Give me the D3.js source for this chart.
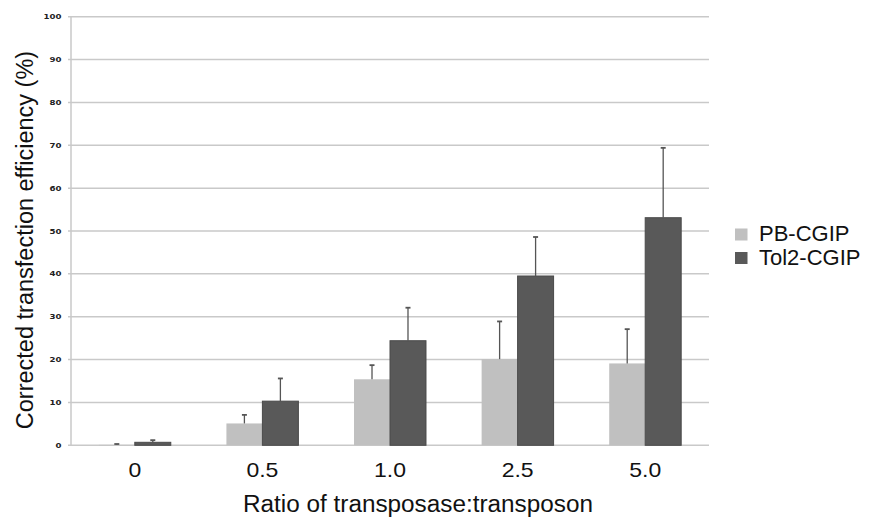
<!DOCTYPE html>
<html><head><meta charset="utf-8">
<script src="https://cdn.jsdelivr.net/npm/d3@7"></script>
<style>body{margin:0;background:#fff;} svg{display:block;}</style>
</head><body>
<svg id="c" width="874" height="519"></svg>
<script>
const categories = ["0", "0.5", "1.0", "2.5", "5.0"];
const seriesNames = ["PB-CGIP", "Tol2-CGIP"];
const pbValues = [0.1, 5.1, 15.4, 20.1, 19.1];
const pbErrTop = [0.3, 7.1, 18.7, 28.9, 27.1];
const tolValues = [0.7, 10.3, 24.4, 39.5, 53.1];
const tolErrTop = [1.2, 15.6, 32.1, 48.6, 69.4];
const yTicks = [0, 10, 20, 30, 40, 50, 60, 70, 80, 90, 100];
const colors = ["#c0c0c0", "#595959"];

const svg = d3.select("#c");
const x0 = 71, x1 = 709, yTop = 16.7, yBot = 445.3;
const x = d3.scaleBand().domain(categories).range([x0, x1]).paddingInner(0.436).paddingOuter(0.218);
const xs = d3.scaleBand().domain(seriesNames).range([0, x.bandwidth()]);
const y = d3.scaleLinear().domain([0, 100]).range([yBot, yTop]);
const font = "Liberation Sans, Arial, sans-serif";

// gridlines
svg.append("g").selectAll("line").data(yTicks).join("line")
  .attr("x1", x0 - 3).attr("x2", x1).attr("y1", d => y(d)).attr("y2", d => y(d))
  .attr("stroke", "#c9c9c9").attr("stroke-width", 1.5);

// y axis line
svg.append("line").attr("x1", x0).attr("x2", x0).attr("y1", yTop).attr("y2", yBot)
  .attr("stroke", "#c9c9c9").attr("stroke-width", 1.5);

// y tick labels
svg.append("g").selectAll("text").data(yTicks).join("text")
  .attr("transform", d => `translate(61.5,${y(d)}) scale(1.15,1)`).attr("dy", "0.35em")
  .attr("text-anchor", "end").attr("font-family", "DejaVu Sans, sans-serif")
  .attr("font-size", 7.5).attr("font-weight", "bold").attr("fill", "#222").text(d => d);

const data = categories.map((c, i) => [
  {cat: c, s: seriesNames[0], v: pbValues[i], e: pbErrTop[i], col: colors[0]},
  {cat: c, s: seriesNames[1], v: tolValues[i], e: tolErrTop[i], col: colors[1]}
]).flat();

// bars
svg.append("g").selectAll("rect").data(data).join("rect")
  .attr("x", d => x(d.cat) + xs(d.s)).attr("width", xs.bandwidth())
  .attr("y", d => y(d.v)).attr("height", d => y(0) - y(d.v))
  .attr("fill", d => d.col)
  .attr("stroke", d => d.s === seriesNames[1] ? "#4a4a4a" : "none").attr("stroke-width", 1);

// error bars
const eg = svg.append("g").attr("stroke", "#555").attr("stroke-width", 1.3);
data.forEach(d => {
  const cx = x(d.cat) + xs(d.s) + xs.bandwidth() / 2;
  eg.append("line").attr("x1", cx).attr("x2", cx).attr("y1", y(d.v)).attr("y2", y(d.e));
  eg.append("line").attr("x1", cx - 2.5).attr("x2", cx + 2.5).attr("y1", y(d.e)).attr("y2", y(d.e)).attr("stroke-width", 1.8);
});

// x labels
svg.append("g").selectAll("text").data(categories).join("text")
  .attr("transform", d => `translate(${x(d) + x.bandwidth() / 2},476.5) scale(1.15,1)`)
  .attr("text-anchor", "middle").attr("font-family", font)
  .attr("font-size", 20).attr("fill", "#111").text(d => d);

// x title
svg.append("text").attr("x", 243).attr("y", 511.5)
  .attr("font-family", font).attr("textLength", 350).attr("lengthAdjust", "spacingAndGlyphs")
  .attr("font-size", 23).attr("fill", "#111").text("Ratio of transposase:transposon");

// y title
svg.append("text").attr("transform", `translate(33,${(yTop + yBot) / 2 + 9}) rotate(-90)`)
  .attr("text-anchor", "middle").attr("font-family", font)
  .attr("font-size", 23.5).attr("fill", "#111").text("Corrected transfection efficiency (%)");

// legend
const lg = svg.append("g");
seriesNames.forEach((s, i) => {
  lg.append("rect").attr("x", 735).attr("y", 228.5 + i * 23.5).attr("width", 12.5).attr("height", 12).attr("fill", colors[i]);
  lg.append("text").attr("x", 759).attr("y", 241 + i * 23.5).attr("font-family", font)
    .attr("font-size", 22).attr("fill", "#111").text(s);
});
</script>
</body></html>
